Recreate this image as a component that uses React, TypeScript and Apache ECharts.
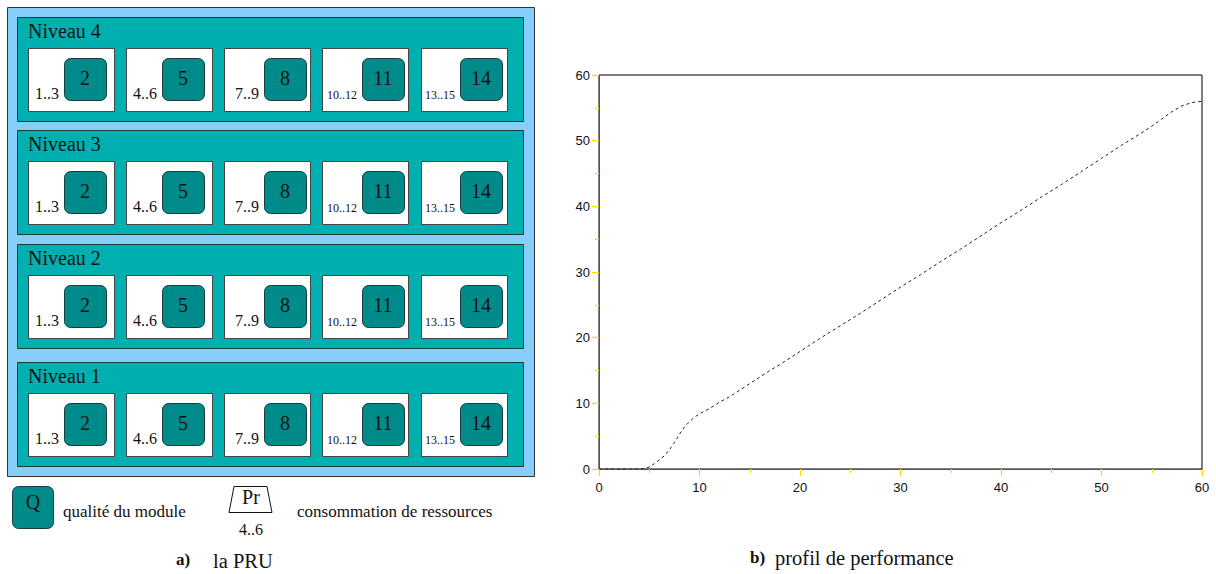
import React, { useEffect, useRef } from "react";
import * as echarts from "echarts";

// ---- performance profile (x: resources, y: performance) ----
const profileX = [0, 1, 2, 3, 4, 4.5, 5, 5.5, 6, 6.5, 7, 7.5, 8, 8.5, 9, 9.5, 10, 11, 12, 13, 14, 15, 16, 17, 18, 19, 20, 22, 24, 26, 28, 30, 32, 34, 36, 38, 40, 42, 44, 46, 48, 50, 52, 54, 55, 56, 57, 58, 59, 60];
const profileY = [0, 0, 0, 0, 0, 0.05, 0.3, 0.8, 1.4, 2.0, 2.9, 4.0, 5.3, 6.4, 7.2, 7.9, 8.4, 9.2, 10.2, 11.0, 12.0, 13.0, 14.0, 15.0, 15.9, 16.9, 17.9, 19.9, 21.8, 23.7, 25.7, 27.7, 29.6, 31.6, 33.5, 35.5, 37.5, 39.4, 41.4, 43.3, 45.3, 47.3, 49.3, 51.2, 52.2, 53.3, 54.4, 55.3, 55.8, 56.0];
const xTicks = [0, 10, 20, 30, 40, 50, 60];
const yTicks = [0, 10, 20, 30, 40, 50, 60];

// ---- PRU diagram ----
const levels = ["Niveau 4", "Niveau 3", "Niveau 2", "Niveau 1"];
const moduleQuality = ["2", "5", "8", "11", "14"];
const moduleRanges = ["1..3", "4..6", "7..9", "10..12", "13..15"];
const legendQuality = "qualité du module";
const legendResource = "consommation de ressources";
const legendQ = "Q";
const legendPr = "Pr";
const legendRange = "4..6";
const captionA = ["a)", "la PRU"];
const captionB = ["b)", "profil de performance"];

// layout (positions only)
const panelTops = [17, 130, 244, 362];
const boxXs = [28, 126, 224, 322, 421];
const modXs = [64, 162, 264, 362, 460];
const rangeFont = [16, 16, 16, 12, 12];

const SERIF = '"Liberation Serif", "Times New Roman", serif';
const SANS = '"Liberation Sans", Arial, sans-serif';
const TEAL = "#00b0b0";
const MOD = "#008b8b";

function txt(text: string, x: number, y: number, size: number, align = "left", weight = "normal", fill = "#111") {
  return {
    type: "text",
    silent: true,
    style: {
      text,
      x,
      y,
      fontSize: size,
      fontFamily: SERIF,
      fontWeight: weight,
      fill,
      align,
      verticalAlign: "middle",
      textAlign: align,
      textVerticalAlign: "middle",
    },
  };
}

function buildGraphic() {
  const els: any[] = [];
  els.push({
    type: "rect",
    shape: { x: 7.5, y: 7.5, width: 527, height: 469 },
    style: { fill: "#87cefa", stroke: "#333", lineWidth: 1 },
  });
  levels.forEach((lv, li) => {
    const py = panelTops[li];
    els.push({
      type: "rect",
      shape: { x: 17.5, y: py + 0.5, width: 506, height: 104 },
      style: { fill: TEAL, stroke: "#1d3b3b", lineWidth: 1 },
    });
    els.push(txt(lv, 28, py + 14, 20));
    moduleQuality.forEach((q, mi) => {
      const bx = boxXs[mi];
      els.push({
        type: "rect",
        shape: { x: bx + 0.5, y: py + 31.5, width: 86, height: 63 },
        style: { fill: "#fff", stroke: "#444", lineWidth: 1 },
      });
      const mx = modXs[mi];
      els.push({
        type: "rect",
        shape: { x: mx + 0.5, y: py + 41.5, width: 42, height: 42, r: 6 },
        style: { fill: MOD, stroke: "#1d3b3b", lineWidth: 1 },
      });
      els.push(txt(q, mx + 21, py + 61, 20, "center"));
      const fs = rangeFont[mi];
      els.push(txt(moduleRanges[mi], mx - 5, py + 82.3 - 0.34 * fs, fs, "right"));
    });
  });
  // legend
  els.push({
    type: "rect",
    shape: { x: 12.5, y: 486.5, width: 41, height: 42, r: 6 },
    style: { fill: MOD, stroke: "#1d3b3b", lineWidth: 1 },
  });
  els.push(txt(legendQ, 33, 502, 20, "center"));
  els.push(txt(legendQuality, 63, 511, 17));
  els.push({
    type: "polygon",
    shape: { points: [[234, 486.5], [267, 486.5], [272, 512.5], [229, 512.5]] },
    style: { fill: "#fff", stroke: "#111", lineWidth: 1 },
  });
  els.push(txt(legendPr, 251, 497, 20, "center"));
  els.push(txt(legendRange, 251, 529, 16, "center"));
  els.push(txt(legendResource, 297, 511, 17));
  // captions
  els.push(txt(captionA[0], 176, 559, 17, "left", "bold"));
  els.push(txt(captionA[1], 213, 561, 20.5));
  els.push(txt(captionB[0], 750, 557, 17, "left", "bold"));
  els.push(txt(captionB[1], 775, 558, 20.5));
  return els;
}

export default function App() {
  const ref = useRef<HTMLDivElement>(null);
  useEffect(() => {
    if (!ref.current) return;
    const chart = echarts.init(ref.current, undefined, { renderer: "svg" });
    const tickColor = "#ffd700";
    const axisCommon = {
      type: "value",
      min: xTicks[0],
      max: xTicks[xTicks.length - 1],
      interval: xTicks[1] - xTicks[0],
      axisLine: { show: true, lineStyle: { color: "#555", width: 1 } },
      axisTick: { show: true, length: 7, lineStyle: { color: tickColor, width: 1.2 } },
      minorTick: { show: true, splitNumber: 2, length: 4, lineStyle: { color: tickColor, width: 1.2 } },
      splitLine: { show: false },
      minorSplitLine: { show: false },
    };
    chart.setOption({
      animation: false,
      backgroundColor: "#fff",
      grid: {
        left: 599,
        right: 14,
        top: 75,
        bottom: 105,
        show: true,
        borderColor: "#000",
        borderWidth: 1,
        backgroundColor: "transparent",
      },
      xAxis: {
        ...axisCommon,
        axisLabel: { color: "#111", fontSize: 13, fontFamily: SANS, margin: 12 },
      },
      yAxis: {
        ...axisCommon,
        min: yTicks[0],
        max: yTicks[yTicks.length - 1],
        interval: yTicks[1] - yTicks[0],
        axisLabel: { color: "#111", fontSize: 13, fontFamily: SANS, margin: 9 },
      },
      series: [
        {
          type: "line",
          data: profileX.map((x, i) => [x, profileY[i]]),
          showSymbol: false,
          symbol: "none",
          lineStyle: { color: "#222", width: 1, type: [3, 3] },
          silent: true,
        },
      ],
      graphic: { elements: buildGraphic() },
    });
    return () => chart.dispose();
  }, []);
  return (
    <div
      ref={ref}
      style={{ position: "absolute", left: 0, top: 0, width: 1216, height: 574 }}
    />
  );
}
